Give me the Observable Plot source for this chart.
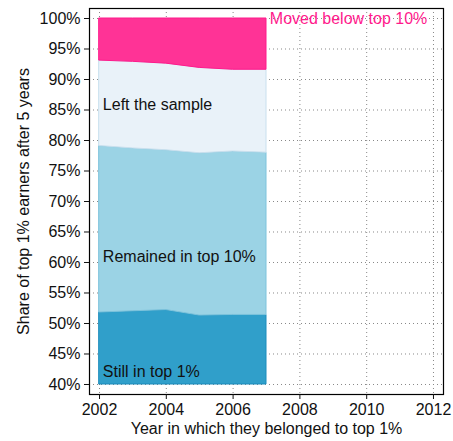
<!DOCTYPE html>
<html>
<head>
<meta charset="utf-8">
<script src="https://cdn.jsdelivr.net/npm/d3@7"></script>
<script src="https://cdn.jsdelivr.net/npm/@observablehq/plot@0.6"></script>
<style>
  html, body { margin: 0; padding: 0; background: #fff; }
  svg { font-family: "Liberation Sans", Arial, sans-serif; }
</style>
</head>
<body>
<div id="chart"></div>
<script>
// Data (percent of top 1% earners after 5 years)
const years = [2002, 2003, 2004, 2005, 2006, 2007];
const categories = ["Still in top 1%", "Remained in top 10%", "Left the sample", "Moved below top 10%"];
const stillTop1 = [51.8, 52.0, 52.2, 51.3, 51.4, 51.4];
const remainedTop10 = [27.3, 26.7, 26.2, 26.6, 26.8, 26.6];
const leftSample = [14.0, 14.2, 14.2, 14.0, 13.4, 13.6];
const movedBelow = [6.9, 7.1, 7.4, 8.1, 8.4, 8.4];
const yTicks = [40, 45, 50, 55, 60, 65, 70, 75, 80, 85, 90, 95, 100];
const xTicks = [2002, 2004, 2006, 2008, 2010, 2012];

const fills = ["#309fca", "#9bd3e5", "#e9f2f9", "#ff3396"];
const strokes = ["#1a8cbd", "#7cc3dc", "#c9e0ee", "#ff1a8c"];
const series = [stillTop1, remainedTop10, leftSample, movedBelow];
const base = 40;

const rows = [];
years.forEach((yr, i) => {
  let cum = 0;
  series.forEach((s, k) => {
    const lo = cum;
    cum += s[i];
    rows.push({year: yr, cat: categories[k], k, y1: Math.max(base, lo), y2: cum});
  });
});

const labels = [
  {x: 2002.1, y: 85.9, text: "Left the sample", fill: "#111"},
  {x: 2002.1, y: 61.0, text: "Remained in top 10%", fill: "#111"},
  {x: 2002.1, y: 42.0, text: "Still in top 1%", fill: "#111"},
  {x: 2007.1, y: 100, text: "Moved below top 10%", fill: "#ff1a8c"}
];

const chart = Plot.plot({
  width: 453,
  height: 441,
  marginLeft: 89,
  marginRight: 10,
  marginTop: 8,
  marginBottom: 47,
  style: {fontSize: "16px", fontFamily: "Liberation Sans, Arial, sans-serif", color: "#111"},
  x: {domain: [2001.7, 2012.3], ticks: xTicks, tickFormat: "d"},
  y: {domain: [38.36, 101.64], ticks: yTicks, tickFormat: d => d + "%"},
  color: {domain: categories, range: fills},
  marks: [
    Plot.gridX(xTicks, {stroke: "#888", strokeOpacity: 1, strokeDasharray: "1,3"}),
    Plot.gridY(yTicks, {stroke: "#888", strokeOpacity: 1, strokeDasharray: "1,3"}),
    ...categories.map((c, k) =>
      Plot.areaY(rows.filter(d => d.k === k), {
        x: "year", y1: "y1", y2: "y2",
        fill: fills[k], fillOpacity: 1,
        stroke: strokes[k], strokeWidth: 1
      })
    ),
    Plot.frame({stroke: "#000", strokeWidth: 1.2}),
    Plot.axisX(xTicks, {tickFormat: "d", tickSize: 5, tickPadding: 4, fontSize: 16,
      label: "Year in which they belonged to top 1%", labelAnchor: "center", labelArrow: "none", labelOffset: 39, fontSize: 16}),
    Plot.axisY(yTicks, {tickFormat: d => d + "%", tickSize: 5, tickPadding: 4, fontSize: 16,
      label: "Share of top 1% earners after 5 years", labelAnchor: "center", labelArrow: "none", labelOffset: 72}),
    Plot.text(labels, {x: "x", y: "y", text: "text", fill: "fill", textAnchor: "start", fontSize: 16})
  ]
});
document.getElementById("chart").appendChild(chart);
</script>
</body>
</html>
